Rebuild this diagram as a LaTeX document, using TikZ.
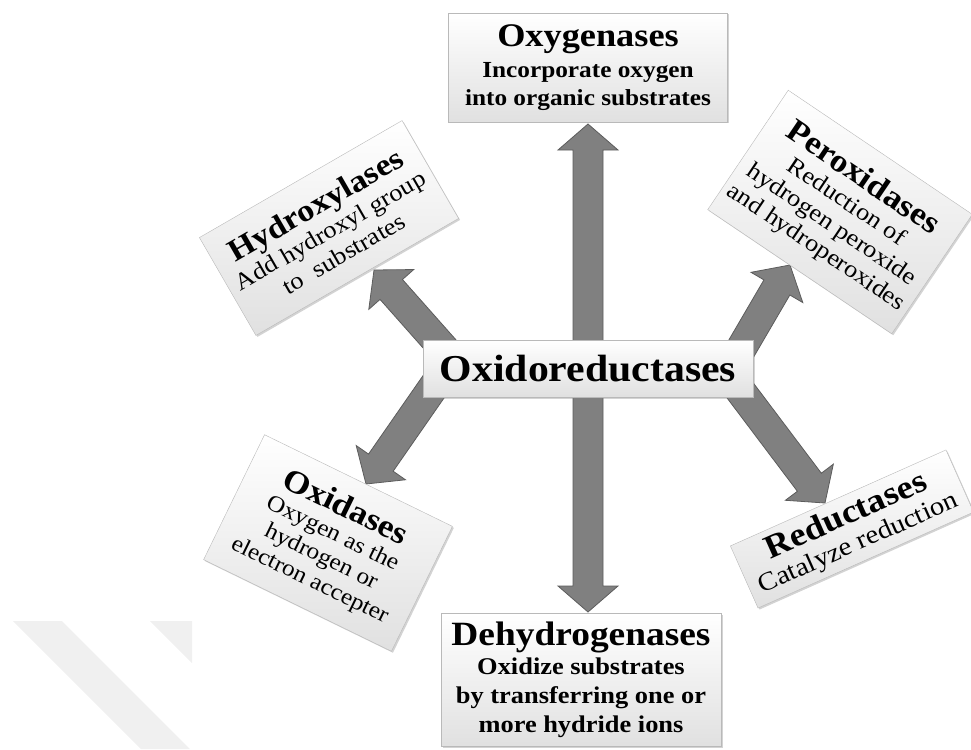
\documentclass[tikz,border=0pt]{standalone}
\usepackage{fontspec}
\setmainfont{Liberation Serif}[FakeStretch=1.1]
\usetikzlibrary{calc, shadows, backgrounds}

% fat block arrow from #1 to #2
\newcommand{\fatarrow}[2]{%
  \coordinate (headbase) at ($(#2)!26pt!(#1)$);
  \filldraw[blockarrow]
    ($(#1)!15pt!90:(#2)$) -- ($(headbase)!15pt!90:(#2)$) -- ($(headbase)!30pt!90:(#2)$) -- (#2)
    -- ($(headbase)!30pt!-90:(#2)$) -- ($(headbase)!15pt!-90:(#2)$) -- ($(#1)!15pt!-90:(#2)$) -- cycle;
}

\begin{document}
\begin{tikzpicture}[x=1pt, y=-1pt]
    \useasboundingbox (0,0) rectangle (971,749);

    % Define the box and arrow looks for easy reference
    \tikzset{
      card/.style={draw=gray!55, top color=white, bottom color=gray!24, align=center, inner sep=2pt,
        drop shadow={shadow xshift=1.5pt, shadow yshift=-1.5pt, opacity=0.35}},
      blockarrow/.style={fill=black!50, draw=black!64, line width=0.8pt, line join=miter}
    }

    % faint watermark stripes
    \fill[black!6] (13,621) -- (62,621) -- (190,749) -- (141,749) -- cycle;
    \fill[black!6] (150,621) -- (192,621) -- (192,663) -- cycle;

    \node[card, minimum width=330, minimum height=57, font=\bfseries\fontsize{38}{40}\selectfont] (hub) at (588,368.5) {Oxidoreductases};

    \node[card, minimum width=279, minimum height=109, font=\bfseries\fontsize{23}{28}\selectfont] (oxy) at (588,67.5)
      {{\fontsize{33}{36}\selectfont Oxygenases}\\[3pt] Incorporate oxygen\\ into organic substrates};

    \node[card, minimum width=280, minimum height=133, font=\bfseries\fontsize{24}{29}\selectfont] (dehyd) at (581,680)
      {{\fontsize{34}{36}\selectfont Dehydrogenases}\\ Oxidize substrates\\ by transferring one or\\ more hydride ions};

    \node[card, rotate=30, minimum width=234, minimum height=113, font=\fontsize{24}{27}\selectfont] (hyd) at (329,228)
      {{\bfseries\fontsize{31}{33}\selectfont Hydroxylases}\\ Add hydroxyl group\\ to\ \ substrates};

    \node[card, rotate=-34, minimum width=222, minimum height=144, font=\fontsize{24}{27}\selectfont] (per) at (840,212)
      {{\bfseries\fontsize{32}{34}\selectfont Peroxidases}\\ Reduction of\\ hydrogen peroxide\\ and hydroperoxides};

    \node[card, rotate=-26, minimum width=209, minimum height=139, font=\fontsize{23}{26}\selectfont] (oxd) at (328,543)
      {{\bfseries\fontsize{32}{34}\selectfont Oxidases}\\ Oxygen as the\\ hydrogen or\\ electron accepter};

    \node[card, rotate=24, minimum width=236, minimum height=68, font=\fontsize{26}{28}\selectfont] (red) at (852,529)
      {{\bfseries\fontsize{33}{34}\selectfont Reductases}\\ Catalyze reduction};

    \begin{scope}[on background layer]
      \coordinate (oxytip) at (588,124);
      \coordinate (dehydtip) at (588,612);
      \coordinate (hydbase) at (460,367);
      \coordinate (hydtip) at (374,270);
      \coordinate (perbase) at (731,366);
      \coordinate (pertip) at (790,265);
      \coordinate (oxdbase) at (448,366);
      \coordinate (oxdtip) at (366,484);
      \coordinate (redbase) at (724,369);
      \coordinate (redtip) at (825,503);

      \fatarrow{hub.center}{oxytip}
      \fatarrow{hub.center}{dehydtip}
      \fatarrow{hydbase}{hydtip}
      \fatarrow{perbase}{pertip}
      \fatarrow{oxdbase}{oxdtip}
      \fatarrow{redbase}{redtip}
    \end{scope}
\end{tikzpicture}
\end{document}
